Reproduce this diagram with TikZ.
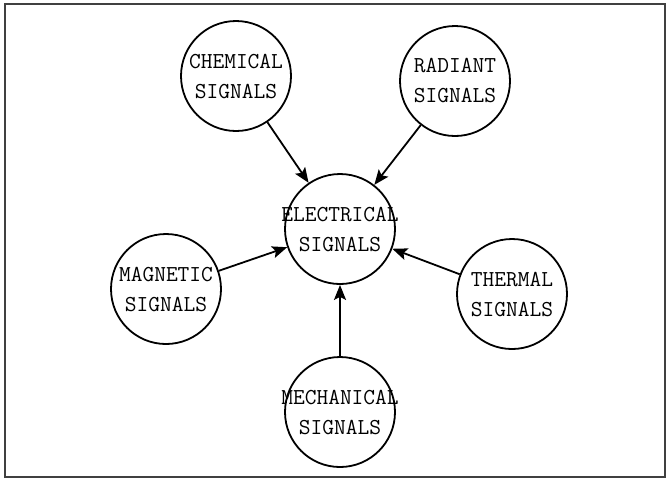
\documentclass[tikz,border=0pt]{standalone}
\usepackage{fontspec}
\usetikzlibrary{arrows.meta}

\begin{document}
\begin{tikzpicture}[x=0.5pt, y=-0.5pt, >={Stealth[length=7.5pt, width=6pt, inset=1.5pt]},
  sig/.style={circle, draw, line width=0.9pt, minimum size=55pt, inner sep=0pt,
    label={[align=center, font=\ttfamily\fontsize{11.4}{15}\selectfont]center:#1}},
  feed/.style={->, line width=0.9pt}]
  \useasboundingbox (0,0) rectangle (668,479);
  \draw[line width=0.8pt, black!75] (5,4) rectangle (665,477);

  \node[sig={ELECTRICAL\\SIGNALS}] (elec) at (340,229) {};
  \node[sig={CHEMICAL\\SIGNALS}] (chem) at (236,76) {};
  \node[sig={RADIANT\\SIGNALS}] (rad) at (455,81) {};
  \node[sig={MAGNETIC\\SIGNALS}] (mag) at (166,289) {};
  \node[sig={THERMAL\\SIGNALS}] (therm) at (512,294) {};
  \node[sig={MECHANICAL\\SIGNALS}] (mech) at (340,412) {};

  \draw[feed] (chem) -- (elec);
  \draw[feed] (rad) -- (elec);
  \draw[feed] (mag) -- (elec);
  \draw[feed] (therm) -- (elec);
  \draw[feed] (mech) -- (elec);
\end{tikzpicture}
\end{document}
